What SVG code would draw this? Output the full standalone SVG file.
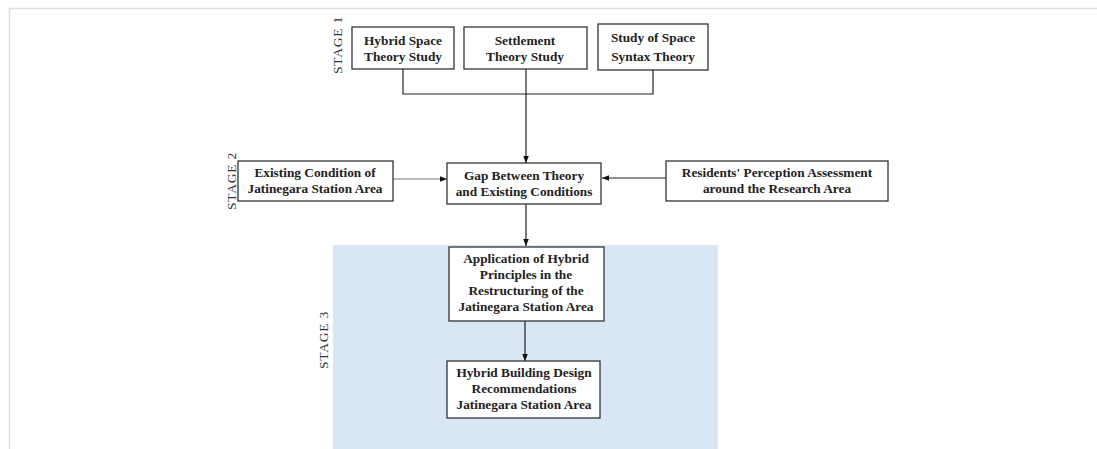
<svg xmlns="http://www.w3.org/2000/svg" width="1097" height="449" viewBox="0 0 1097 449">
<style>
.box{fill:#fff;stroke:#333;stroke-width:1.3}
.t{font-family:"Liberation Serif",serif;font-weight:bold;font-size:13.3px;fill:#222;text-anchor:middle}
.st{font-family:"Liberation Serif",serif;font-size:13.5px;fill:#333;text-anchor:middle;letter-spacing:0.8px}
.ln{fill:none;stroke:#222;stroke-width:1.2}
.ln2{fill:none;stroke:#777;stroke-width:1}
</style>
<defs>
<marker id="ah" viewBox="0 0 10 10" refX="10" refY="5" markerWidth="7" markerHeight="7" markerUnits="userSpaceOnUse" orient="auto">
<path d="M0,1 L10,5 L0,9 z" fill="#111"/>
</marker>
</defs>
<rect width="1097" height="449" fill="#fff"/>
<path d="M9.5,449 V8.5 H1097" fill="none" stroke="#ddd" stroke-width="1.5"/>
<rect id="stage3-panel" x="333" y="245" width="385" height="204" fill="#d9e7f5"/>
<g id="labels">
<text class="st" transform="translate(342,45) rotate(-90)">STAGE 1</text>
<text class="st" transform="translate(236,181) rotate(-90)">STAGE 2</text>
<text class="st" transform="translate(328,340) rotate(-90)">STAGE 3</text>
</g>
<g id="connectors">
<path class="ln" d="M403,69 V94 H653 V70"/>
<path class="ln" d="M526,69 V94"/>
<path class="ln" d="M526,94 V163" marker-end="url(#ah)"/>
<path class="ln2" d="M393,179 H447" marker-end="url(#ah)"/>
<path class="ln" d="M666,178 H602" marker-end="url(#ah)"/>
<path class="ln" d="M526,204 V246" marker-end="url(#ah)"/>
<path class="ln" d="M525,321 V361" marker-end="url(#ah)"/>
</g>
<g id="n1"><rect class="box" x="352" y="27" width="102" height="42"/><text class="t" x="403" y="45">Hybrid  Space</text><text class="t" x="403" y="61">Theory Study</text></g>
<g id="n2"><rect class="box" x="464" y="27" width="123" height="42"/><text class="t" x="525" y="45">Settlement</text><text class="t" x="525" y="61">Theory Study</text></g>
<g id="n3"><rect class="box" x="598" y="24" width="110" height="46"/><text class="t" x="653" y="42">Study of Space</text><text class="t" x="653" y="61">Syntax Theory</text></g>
<g id="n4"><rect class="box" x="238" y="161" width="155" height="40"/><text class="t" x="315" y="177">Existing Condition of</text><text class="t" x="315" y="193">Jatinegara Station Area</text></g>
<g id="n5"><rect class="box" x="447" y="163" width="154" height="41"/><text class="t" x="524" y="180">Gap Between Theory</text><text class="t" x="524" y="196">and Existing Conditions</text></g>
<g id="n6"><rect class="box" x="666" y="161" width="222" height="40"/><text class="t" x="777" y="177">Residents' Perception Assessment</text><text class="t" x="777" y="193">around the Research Area</text></g>
<g id="n7"><rect class="box" x="449" y="247" width="155" height="74"/><text class="t" x="526" y="263">Application of Hybrid</text><text class="t" x="526" y="279">Principles in the</text><text class="t" x="526" y="295">Restructuring of the</text><text class="t" x="526" y="311">Jatinegara Station Area</text></g>
<g id="n8"><rect class="box" x="447" y="361" width="153" height="57"/><text class="t" x="524" y="377">Hybrid Building Design</text><text class="t" x="524" y="393">Recommendations</text><text class="t" x="524" y="409">Jatinegara Station Area</text></g>
</svg>
